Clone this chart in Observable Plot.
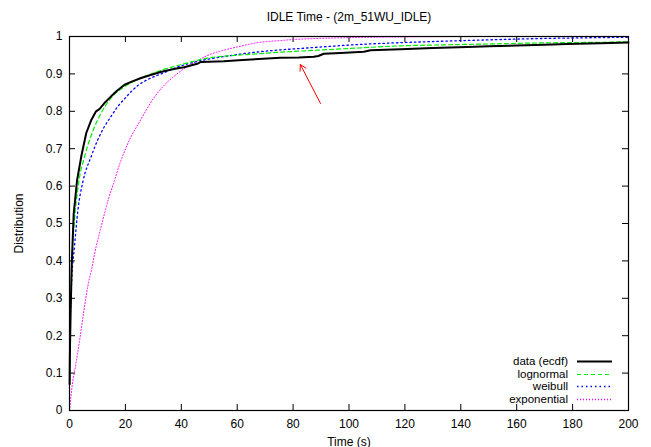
<!DOCTYPE html>
<html><head><meta charset="utf-8">
<script src="https://cdn.jsdelivr.net/npm/d3@7"></script>
<script src="https://cdn.jsdelivr.net/npm/@observablehq/plot@0.6"></script>
<style>
body{margin:0;background:#fff}
#chart{position:relative;width:651px;height:447px}
#chart svg{font-family:"Liberation Sans",Arial,sans-serif}
</style>
</head><body><div id="chart"></div>
<script>
// ---- data ----
const title = "IDLE Time - (2m_51WU_IDLE)";
const xLabel = "Time (s)";
const yLabel = "Distribution";
const xTicks = [0, 20, 40, 60, 80, 100, 120, 140, 160, 180, 200];
const yTicks = [0, 0.1, 0.2, 0.3, 0.4, 0.5, 0.6, 0.7, 0.8, 0.9, 1];

const ecdfX = [0.05, 0.1, 0.2, 0.4, 0.8, 1.5, 2.7, 4.2, 6, 7.8, 9.5, 10.7, 12.5, 14.9, 17, 19.7, 22.5, 25.6, 29, 32.6, 37.3, 41, 45.7, 47, 55.2, 62, 67.7, 75.5, 82, 87.4, 89, 91, 97, 105.3, 107.7, 118.4, 130, 142.3, 150, 160, 170, 178, 190, 200];
const ecdfY = [0.07, 0.12, 0.18, 0.26, 0.39, 0.526, 0.615, 0.679, 0.742, 0.777, 0.8, 0.806, 0.822, 0.84, 0.855, 0.871, 0.88, 0.889, 0.897, 0.905, 0.913, 0.918, 0.927, 0.932, 0.934, 0.937, 0.94, 0.943, 0.944, 0.946, 0.948, 0.954, 0.956, 0.959, 0.963, 0.966, 0.969, 0.972, 0.974, 0.976, 0.978, 0.98, 0.982, 0.984];

const lognX = [0.05, 0.3, 0.8, 1.8, 3.2, 5.4, 8.3, 11.3, 14.9, 19.7, 25.6, 32.6, 40, 49.3, 60, 67.7, 75.5, 90, 100, 118.4, 136, 150, 170, 193.6, 200];
const lognY = [0.08, 0.26, 0.39, 0.508, 0.605, 0.679, 0.746, 0.795, 0.836, 0.866, 0.889, 0.909, 0.925, 0.942, 0.95, 0.954, 0.958, 0.964, 0.968, 0.975, 0.978, 0.98, 0.983, 0.985, 0.986];

const weibX = [0.05, 0.3, 0.8, 1.8, 3, 4.8, 7.8, 10, 12.5, 15, 17.3, 20, 22.1, 25, 28, 33.4, 39.7, 45, 49.3, 55, 61.2, 67.7, 75, 82.6, 90, 100, 110, 120, 136, 150, 165, 180, 200];
const weibY = [0.07, 0.25, 0.35, 0.44, 0.535, 0.612, 0.68, 0.722, 0.759, 0.788, 0.813, 0.836, 0.853, 0.872, 0.885, 0.902, 0.921, 0.932, 0.939, 0.946, 0.953, 0.959, 0.964, 0.968, 0.972, 0.977, 0.981, 0.984, 0.988, 0.991, 0.994, 0.996, 0.998];

const expoX = [0, 1.2, 2, 3.6, 5, 6.5, 8, 9.5, 11, 12.5, 14, 16.1, 18, 21, 25.6, 30, 33.4, 37, 41, 45, 49.3, 55, 60, 67.7, 75, 82.6, 90, 100, 120, 150, 200];
const expoY = [0, 0.08, 0.113, 0.187, 0.259, 0.33, 0.381, 0.437, 0.482, 0.526, 0.567, 0.615, 0.66, 0.716, 0.779, 0.834, 0.866, 0.891, 0.914, 0.932, 0.949, 0.963, 0.972, 0.984, 0.989, 0.993, 0.995, 0.997, 0.999, 1.0, 1.0];

const arrowX1 = [89.8], arrowY1 = [0.821], arrowX2 = [82.6], arrowY2 = [0.925];

const seriesNames = ["data (ecdf)", "lognormal", "weibull", "exponential"];

// ---- styles ----
const styles = {
  "data (ecdf)": {stroke: "#000000", strokeWidth: 2, dash: null, legendWidth: 2},
  "lognormal":   {stroke: "#00ee00", strokeWidth: 1.2, dash: "4,3", legendWidth: 1},
  "weibull":     {stroke: "#0000ff", strokeWidth: 1.3, dash: "1.5,3", legendWidth: 1.3},
  "exponential": {stroke: "#ff00ff", strokeWidth: 1, dash: "1,2", legendWidth: 1.3}
};

const toRows = (xs, ys) => xs.map((x, i) => ({x, y: ys[i]}));
const ecdf = toRows(ecdfX, ecdfY);
const logn = toRows(lognX, lognY);
const weib = toRows(weibX, weibY);
const expo = toRows(expoX, expoY);
const arrows = arrowX1.map((d, i) => ({x1: d, y1: arrowY1[i], x2: arrowX2[i], y2: arrowY2[i]}));

const W = 651, H = 447, mL = 69, mR = 23, mT = 36, mB = 37;
const fw = W - mL - mR, fh = H - mT - mB;
const innerX = xTicks.slice(1, -1), innerY = yTicks.slice(1, -1);
const fmt = d => String(+d.toFixed(2));

const line = (data, name, curve) => Plot.line(data, {
  x: "x", y: "y", curve,
  stroke: styles[name].stroke, strokeWidth: styles[name].strokeWidth,
  strokeDasharray: styles[name].dash
});

const plot = Plot.plot({
  width: W, height: H,
  marginLeft: mL, marginRight: mR, marginTop: mT, marginBottom: mB,
  style: {fontSize: "12px", fontFamily: "'Liberation Sans', Arial, sans-serif", background: "#fff"},
  x: {domain: [0, 200]},
  y: {domain: [0, 1]},
  marks: [
    // inward ticks on all four sides
    Plot.tickX(innerX, {x: d => d, insetTop: fh - 6, stroke: "#000"}),
    Plot.tickX(innerX, {x: d => d, insetBottom: fh - 6, stroke: "#000"}),
    Plot.tickY(innerY, {y: d => d, insetRight: fw - 6, stroke: "#000"}),
    Plot.tickY(innerY, {y: d => d, insetLeft: fw - 6, stroke: "#000"}),
    Plot.axisX({ticks: xTicks, tickSize: 0, tickPadding: 9, tickFormat: fmt, label: xLabel, labelAnchor: "center", labelOffset: 35, labelArrow: "none"}),
    Plot.axisY({ticks: yTicks, tickSize: 0, tickPadding: 7, tickFormat: fmt, label: yLabel, labelAnchor: "center", labelOffset: 55, labelArrow: "none"}),
    line(expo, "exponential", "monotone-x"),
    line(weib, "weibull", "monotone-x"),
    line(logn, "lognormal", "monotone-x"),
    line(ecdf, "data (ecdf)", "linear"),
    Plot.arrow(arrows, {x1: "x1", y1: "y1", x2: "x2", y2: "y2", stroke: "#ff0000", strokeWidth: 1, headLength: 10, bend: 0}),
    Plot.frame({stroke: "#000", strokeWidth: 1.2}),
    Plot.text([title], {frameAnchor: "top", dy: -24, fontSize: 12, fill: "#000"})
  ]
});
document.getElementById("chart").appendChild(plot);

// legend inside the frame, bottom-right (gnuplot style)
const svg = d3.select(plot);
const lg = svg.append("g").attr("font-size", 11.5).attr("font-family", "'Liberation Sans', Arial, sans-serif");
const textRight = mL + fw - 60, sampleX1 = mL + fw - 51, sampleX2 = mL + fw - 16;
const rowY0 = mT + fh - 49, rowStep = 12.6;
seriesNames.forEach((name, i) => {
  const y = Math.round(rowY0 + i * rowStep);
  lg.append("text").attr("x", textRight).attr("y", y).attr("dy", "0.35em")
    .attr("text-anchor", "end").attr("fill", "#000").text(name);
  lg.append("line").attr("x1", sampleX1).attr("x2", sampleX2).attr("y1", y + 0.5).attr("y2", y + 0.5)
    .attr("stroke", styles[name].stroke).attr("stroke-width", styles[name].legendWidth)
    .attr("stroke-dasharray", styles[name].dash);
});
</script>
</body></html>
